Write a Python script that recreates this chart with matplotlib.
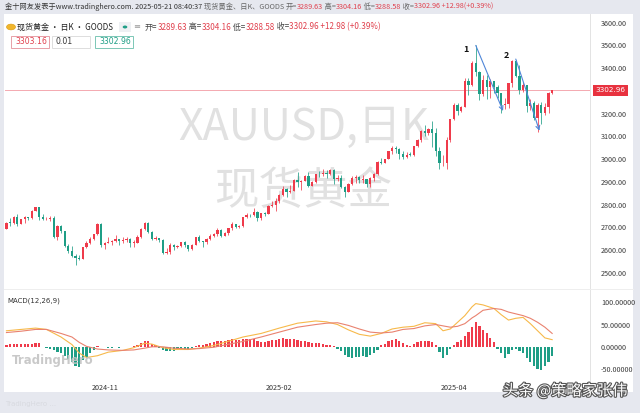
import matplotlib
matplotlib.use("Agg")
import matplotlib.pyplot as plt
from matplotlib.patches import Rectangle, Circle
import matplotlib.patheffects as pe

CJK = ['Noto Sans CJK SC', 'DejaVu Sans']
plt.rcParams['font.family'] = CJK

# daily candles, XAUUSD, 2024-10-18 .. 2025-05-21
opens = [2693, 2721, 2720, 2748, 2715, 2736, 2747, 2743, 2774, 2788,
         2744, 2736, 2737, 2743, 2659, 2706, 2685, 2619, 2598, 2573,
         2565, 2563, 2612, 2631, 2650, 2670, 2715, 2625, 2633, 2636,
         2640, 2650, 2640, 2643, 2650, 2632, 2633, 2660, 2695, 2718,
         2680, 2648, 2652, 2646, 2586, 2594, 2622, 2612, 2617, 2634,
         2621, 2606, 2624, 2658, 2640, 2635, 2648, 2661, 2670, 2690,
         2663, 2677, 2697, 2715, 2702, 2708, 2745, 2755, 2754, 2770,
         2740, 2763, 2760, 2795, 2798, 2815, 2842, 2867, 2856, 2861,
         2908, 2898, 2905, 2928, 2883, 2898, 2935, 2933, 2939, 2936,
         2951, 2915, 2916, 2876, 2858, 2893, 2918, 2920, 2910, 2911,
         2889, 2916, 2934, 2988, 2984, 3001, 3034, 3047, 3044, 3023,
         3011, 3020, 3019, 3057, 3085, 3124, 3113, 3133, 3114, 3037,
         2982, 2985, 3083, 3175, 3237, 3211, 3229, 3342, 3327, 3424,
         3381, 3288, 3349, 3319, 3343, 3316, 3289, 3239, 3241, 3334,
         3431, 3365, 3305, 3325, 3235, 3249, 3179, 3240, 3202, 3230,
         3289.63]
highs = [2722, 2740, 2749, 2758, 2739, 2749, 2748, 2775, 2790, 2790,
         2758, 2745, 2750, 2749, 2710, 2709, 2686, 2626, 2618, 2582,
         2577, 2615, 2639, 2658, 2673, 2721, 2721, 2636, 2656, 2646,
         2665, 2651, 2656, 2657, 2655, 2646, 2667, 2697, 2726, 2726,
         2684, 2662, 2655, 2651, 2611, 2632, 2629, 2621, 2638, 2640,
         2625, 2626, 2660, 2665, 2642, 2654, 2670, 2675, 2697, 2692,
         2680, 2699, 2725, 2716, 2710, 2746, 2763, 2758, 2786, 2773,
         2765, 2770, 2799, 2817, 2830, 2845, 2882, 2873, 2886, 2911,
         2942, 2910, 2932, 2945, 2906, 2936, 2947, 2955, 2954, 2956,
         2955, 2930, 2931, 2882, 2895, 2928, 2930, 2926, 2930, 2915,
         2922, 2940, 2990, 3004, 3002, 3038, 3057, 3057, 3047, 3035,
         3030, 3033, 3060, 3087, 3128, 3149, 3135, 3167, 3136, 3055,
         3020, 3099, 3176, 3245, 3245, 3232, 3357, 3358, 3430, 3500,
         3386, 3368, 3371, 3352, 3345, 3328, 3292, 3269, 3337, 3437,
         3438, 3415, 3341, 3327, 3265, 3257, 3245, 3252, 3249, 3295,
         3304.16]
lows = [2692, 2708, 2714, 2708, 2715, 2721, 2731, 2737, 2772, 2731,
        2731, 2732, 2727, 2652, 2644, 2677, 2612, 2589, 2572, 2536,
        2557, 2562, 2609, 2627, 2644, 2667, 2614, 2605, 2632, 2623,
        2636, 2622, 2632, 2635, 2614, 2613, 2632, 2655, 2691, 2677,
        2643, 2646, 2637, 2583, 2583, 2584, 2603, 2608, 2614, 2616,
        2597, 2601, 2622, 2636, 2614, 2629, 2643, 2656, 2664, 2657,
        2662, 2668, 2689, 2699, 2696, 2704, 2741, 2744, 2752, 2730,
        2735, 2751, 2758, 2788, 2772, 2809, 2840, 2834, 2853, 2859,
        2880, 2864, 2903, 2878, 2881, 2896, 2922, 2926, 2919, 2930,
        2890, 2905, 2873, 2832, 2856, 2887, 2895, 2896, 2894, 2880,
        2880, 2906, 2932, 2979, 2983, 2999, 3022, 3028, 2999, 3000,
        3007, 3013, 3014, 3054, 3076, 3101, 3105, 3054, 3015, 2956,
        2970, 2957, 3074, 3174, 3193, 3206, 3228, 3283, 3323, 3367,
        3260, 3277, 3266, 3268, 3290, 3267, 3202, 3222, 3225, 3316,
        3361, 3286, 3295, 3207, 3217, 3173, 3120, 3154, 3196, 3205,
        3288.58]
closes = [2721, 2720, 2748, 2715, 2736, 2747, 2743, 2774, 2788, 2744,
          2736, 2737, 2743, 2659, 2706, 2685, 2619, 2598, 2573, 2565,
          2563, 2612, 2631, 2650, 2670, 2715, 2625, 2633, 2636, 2640,
          2650, 2640, 2643, 2650, 2632, 2633, 2660, 2695, 2718, 2680,
          2648, 2652, 2646, 2586, 2594, 2622, 2612, 2617, 2634, 2621,
          2606, 2624, 2658, 2640, 2635, 2648, 2661, 2670, 2690, 2663,
          2677, 2697, 2715, 2702, 2708, 2745, 2755, 2754, 2770, 2740,
          2763, 2760, 2795, 2798, 2815, 2842, 2867, 2856, 2861, 2908,
          2898, 2905, 2928, 2883, 2898, 2935, 2933, 2939, 2936, 2951,
          2915, 2916, 2876, 2858, 2893, 2918, 2920, 2910, 2911, 2889,
          2916, 2934, 2988, 2984, 3001, 3034, 3047, 3044, 3023, 3011,
          3020, 3019, 3057, 3085, 3124, 3113, 3133, 3114, 3037, 2982,
          2985, 3083, 3175, 3237, 3211, 3229, 3342, 3327, 3424, 3381,
          3288, 3349, 3319, 3343, 3316, 3289, 3239, 3241, 3334, 3431,
          3365, 3305, 3325, 3235, 3249, 3179, 3240, 3202, 3230, 3290,
          3302.96]

# MACD(12,26,9)
macd_hist = [3, 6, 7, 6, 6, 6, 6, 7, 8, 9,
             -1, -3, -5, -8, -11, -15, -20, -27, -35, -44,
             -46, -30, -22, -14, -8, 2, -1, -1, -2, -2,
             -1, -2, -1, -1, -1, 2, 4, 9, 14, 12,
             7, 3, -3, -8, -10, -9, -9, -8, -6, -5,
             -4, -3, 1, 3, 4, 6, 8, 10, 13, 12,
             13, 15, 17, 16, 15, 17, 18, 17, 17, 12,
             11, 10, 13, 15, 16, 17, 19, 18, 17, 18,
             16, 14, 14, 10, 8, 9, 8, 6, 5, 3,
             1, -4, -10, -18, -22, -24, -23, -22, -21, -22,
             -19, -14, -7, 3, 7, 12, 16, 17, 13, 8,
             4, 2, 6, 10, 13, 14, 14, 10, 3, -12,
             -24, -18, -4, 5, 11, 16, 25, 34, 45, 55,
             47, 38, 30, 20, 10, -4, -14, -24, -16, -8,
             -5, -9, -14, -25, -34, -44, -50, -52, -44, -33, -20]
line_bars = [0, 4, 8, 11, 15, 18, 20, 22, 25, 28, 32, 35, 38, 40, 43, 46, 50, 53,
             57, 60, 65, 70, 75, 80, 85, 88, 91, 94, 97, 100, 103, 106, 109, 112,
             115, 118, 120, 122, 124, 126, 128, 129, 131, 134, 136, 138, 140, 142,
             144, 146, 148, 150]
dif = [36, 39, 42, 39, 22, 5, -14, -24, -20, -12, -8, -2, 8, 6, -2, -6, -6, -3,
       3, 10, 22, 30, 42, 53, 58, 56, 50, 38, 28, 24, 30, 40, 44, 46, 54, 52,
       36, 40, 55, 70, 90, 97, 94, 86, 72, 60, 64, 66, 52, 36, 20, 16]
dea = [32, 35, 39, 39, 30, 22, 10, 1, -5, -7, -8, -7, -3, 0, 0, -3, -5, -4,
       -1, 4, 12, 22, 33, 44, 50, 53, 54, 48, 40, 33, 31, 33, 39, 41, 47, 50,
       47, 44, 46, 52, 65, 70, 82, 86, 84, 78, 74, 70, 64, 55, 44, 30]

xtick_bars = [27, 75, 123]
xtick_labels = ['2024-11', '2025-02', '2025-04']
price_ticks = [2500, 2600, 2700, 2800, 2900, 3000, 3100, 3200, 3400, 3500, 3600]
macd_ticks = [100, 50, 0, -50]
macd_tick_labels = ['100.00000', '50.00000', '0.00000', '-50.00000']
last_price = 3302.96

UP = '#ef3b4b'
DOWN = '#1f9e86'
BG = '#e6e8ef'
W, H = 640, 413


def fx(x):
    return x / W


def fy(y):
    return 1 - y / H


fig = plt.figure(figsize=(6.4, 4.13), dpi=100, facecolor=BG)
fig.patches.append(Rectangle((fx(4), fy(392)), fx(629), 378 / H,
                             transform=fig.transFigure, facecolor='white',
                             edgecolor='none', zorder=-5))

ax = fig.add_axes([fx(5), fy(288), fx(585), 274 / H])
axm = fig.add_axes([fx(5), fy(378), fx(585), 86 / H])
for a in (ax, axm):
    a.set_facecolor('none')
    for s in a.spines.values():
        s.set_visible(False)
    a.set_xlim(-0.4, 160.4)
    a.yaxis.tick_right()
    a.tick_params(axis='y', length=0, pad=8, labelsize=5.2, labelcolor='#3a3a3a')

# candles
n = len(closes)
for i in range(n):
    o, h, l, c = opens[i], highs[i], lows[i], closes[i]
    col = UP if c >= o else DOWN
    ax.vlines(i, l, h, color=col, lw=0.55, zorder=2)
    body = max(abs(c - o), 2.0)
    ax.bar(i, body, bottom=min(o, c), width=0.62, color=col, zorder=3)

ax.set_ylim(2434, 3638)
ax.set_yticks(price_ticks)
ax.set_yticklabels(['%.2f' % p for p in price_ticks])
ax.set_xticks([])

ax.axhline(last_price, color='#f4a9b0', lw=0.7, zorder=1)
ax.annotate('%.2f' % last_price, xy=(1.0, last_price), xycoords=('axes fraction', 'data'),
            xytext=(4, 0), textcoords='offset points', ha='left', va='center',
            fontsize=5.2, color='white', family=['DejaVu Sans'],
            bbox=dict(boxstyle='square,pad=0.35', fc='#e8323f', ec='none'), zorder=6,
            annotation_clip=False)

# watermarks
ax.text(0.51, 0.585, 'XAUUSD,日K', transform=ax.transAxes, ha='center', va='center',
        fontsize=31, color='#e1e1e1', zorder=1)
ax.text(0.51, 0.355, '现货黄金', transform=ax.transAxes, ha='center', va='center',
        fontsize=32, color='#e1e1e1', zorder=1)

# annotations
arrow = dict(arrowstyle='->', color='#4f86d8', lw=0.8, shrinkA=0, shrinkB=0,
             mutation_scale=7)
ax.annotate('', xy=(136.5, 3212), xytext=(129, 3500), arrowprops=arrow, zorder=5)
ax.annotate('', xy=(146.5, 3125), xytext=(140, 3440), arrowprops=arrow, zorder=5)
ax.text(126.3, 3480, '1', fontsize=6.5, fontweight='bold', color='#111111',
        ha='center', va='center')
ax.text(137.3, 3456, '2', fontsize=6.5, fontweight='bold', color='#111111',
        ha='center', va='center')

# MACD panel
hcols = [UP if v >= 0 else DOWN for v in macd_hist]
axm.bar(range(n), macd_hist, width=0.62, color=hcols, zorder=2)
axm.plot(line_bars, dif, color='#f7b94a', lw=0.8, zorder=3)
axm.plot(line_bars, dea, color='#e9826f', lw=0.8, zorder=3)
axm.set_ylim(-70, 123)
axm.set_yticks(macd_ticks)
axm.set_yticklabels(macd_tick_labels)
axm.set_xticks(xtick_bars)
axm.set_xticklabels(xtick_labels)
axm.tick_params(axis='x', length=0, pad=4, labelsize=5.2, labelcolor='#333333')
axm.text(0.004, 0.9, 'MACD(12,26,9)', transform=axm.transAxes, fontsize=5,
         color='#333333', va='center', family=['DejaVu Sans'])
axm.text(0.012, 0.2, 'TradingHero', transform=axm.transAxes, fontsize=8.5,
         fontweight='bold', color='#c4c4c4', alpha=0.9, va='center',
         family=['DejaVu Sans'], zorder=5)

# separators
fig.add_artist(plt.Line2D([fx(590), fx(590)], [fy(14), fy(392)], color='#e3e3e3', lw=0.7))
fig.add_artist(plt.Line2D([fx(4), fx(633)], [fy(289), fy(289)], color='#eeeeee', lw=0.7))

# header texts
renderer = fig.canvas.get_renderer()


def seq_text(x0, y, parts, size):
    x = x0
    for s, c in parts:
        t = fig.text(fx(x), fy(y), s, color=c, fontsize=size, va='center', family=CJK)
        x += t.get_window_extent(renderer=renderer).width


RED = '#e0404d'
GRAY = '#666666'
seq_text(5, 7, [('金十网友发表于www.tradinghero.com. 2025-05-21 08:40:37 ', '#333333'),
                ('现货黄金、日K、GOODS ', GRAY), ('开=', GRAY), ('3289.63', RED),
                (' 高=', GRAY), ('3304.16', RED), (' 低=', GRAY), ('3288.58', RED),
                (' 收=', GRAY), ('3302.96 +12.98(+0.39%)', RED)], 5.2)

fig.patches.append(Circle((fx(11), fy(27)), 4.5 / W, transform=fig.transFigure,
                          facecolor='#f1b62c', edgecolor='#d99a10', lw=0.4))
seq_text(17, 27, [('现货黄金 · 日K · GOODS', '#222222')], 5.8)
fig.patches.append(Rectangle((fx(119), fy(32)), 12 / W, 10 / H, transform=fig.transFigure,
                             facecolor='#eef0f3', edgecolor='none'))
fig.patches.append(Circle((fx(125), fy(27)), 2.3 / W, transform=fig.transFigure,
                          facecolor='#1f9e86', edgecolor='none'))
fig.text(fx(137), fy(27), '≡', fontsize=6, color='#999999', va='center', ha='center',
         family=['DejaVu Sans'])
seq_text(145, 27, [('开=', '#444444'), ('3289.63', RED), (' 高=', '#444444'), ('3304.16', RED),
                   (' 低=', '#444444'), ('3288.58', RED), (' 收=', '#444444'),
                   ('3302.96 +12.98 (+0.39%)', RED)], 5.8)

boxes = [('3303.16', '#e8a0a8', RED, 11), ('0.01', '#dddddd', '#333333', 52),
         ('3302.96', '#7cc7b6', '#1f9e86', 95)]
for label, ec, tc, x0 in boxes:
    fig.patches.append(Rectangle((fx(x0), fy(48)), 38 / W, 12 / H, transform=fig.transFigure,
                                 facecolor='white', edgecolor=ec, lw=0.7))
    fig.text(fx(x0 + 4), fy(42), label, fontsize=5.6, color=tc, va='center',
             family=['DejaVu Sans'])

fig.text(fx(5), fy(404), 'TradingHero ...', fontsize=5, color='#d8dae0',
         va='center', family=['DejaVu Sans'])
fig.text(fx(565), fy(391), '头条 @策略家张伟', fontsize=11, color='white', ha='center',
         va='center', family=CJK,
         path_effects=[pe.withStroke(linewidth=1.6, foreground='#555555')])

fig.savefig('out.png', dpi=100, facecolor=BG)
